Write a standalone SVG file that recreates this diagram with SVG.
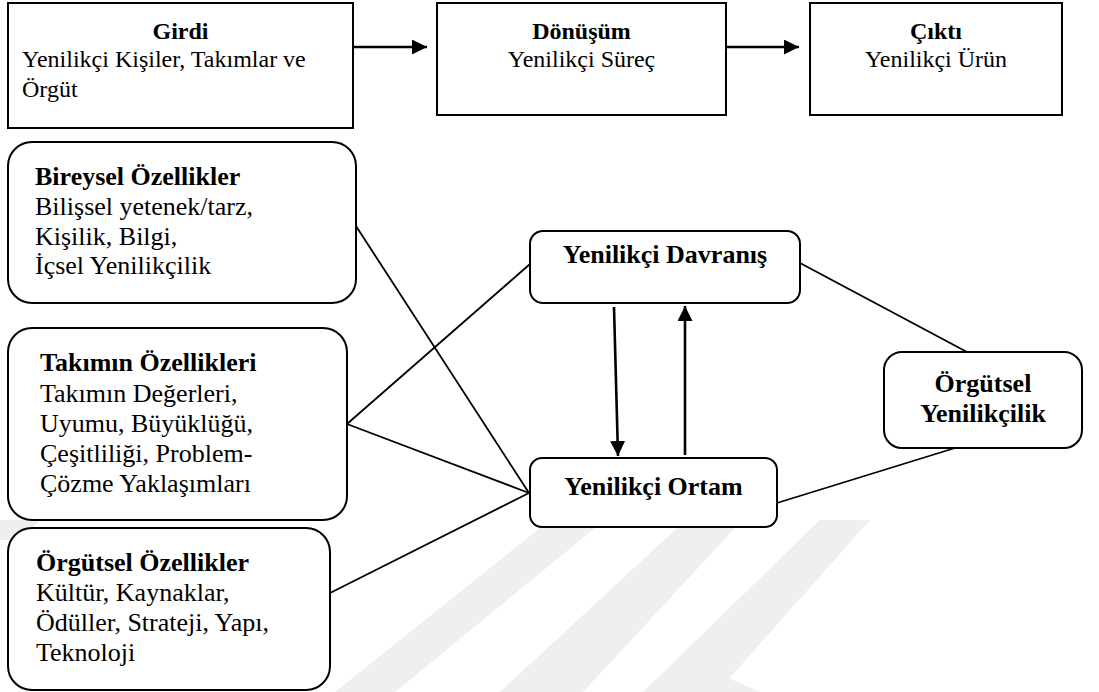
<svg xmlns="http://www.w3.org/2000/svg" width="1099" height="692" viewBox="0 0 1099 692">
  <style>
    .box { fill: #ffffff; stroke: #000000; stroke-width: 2; }
    .link { fill: none; stroke: #000000; stroke-width: 1.8; }
    .arrow { fill: none; stroke: #000000; stroke-width: 2.6; }
    .t { font-family: "Liberation Serif", "Times New Roman", serif; fill: #000000; }
    .top { font-size: 24px; }
    .low { font-size: 26px; }
    .b { font-weight: bold; }
    .mid { text-anchor: middle; }
    .wm { fill: #efefef; }
  </style>
  <defs>
    <marker id="head" markerUnits="userSpaceOnUse" markerWidth="16" markerHeight="16" refX="15" refY="7.5" orient="auto">
      <path d="M0,0 L15,7.5 L0,15 z" fill="#000000"/>
    </marker>
  </defs>

  <rect width="1099" height="692" fill="#ffffff"/>

  <!-- faint background emblem -->
  <g id="emblem">
    <polygon class="wm" points="335,692 395,692 595,528 540,528"/>
    <polygon class="wm" points="500,692 583,692 735,528 677,528"/>
    <polygon class="wm" points="643,692 717,692 870,520 820,520"/>
    <polygon class="wm" points="717,673 760,692 717,692"/>
    <polygon class="wm" points="0,540 0,520 40,520 20,540"/>
  </g>

  <!-- connectors -->
  <g id="connectors">
    <line class="arrow" x1="353" y1="47" x2="427" y2="47" marker-end="url(#head)"/>
    <line class="arrow" x1="726" y1="47" x2="799" y2="47" marker-end="url(#head)"/>
    <line class="arrow" x1="614" y1="307" x2="618" y2="456" marker-end="url(#head)"/>
    <line class="arrow" x1="685" y1="455" x2="685" y2="306" marker-end="url(#head)"/>
    <line class="link" x1="356" y1="226" x2="529" y2="493"/>
    <line class="link" x1="347" y1="424" x2="530" y2="264"/>
    <line class="link" x1="347" y1="424" x2="529" y2="493"/>
    <line class="link" x1="330" y1="593" x2="529" y2="493"/>
    <line class="link" x1="800" y1="263" x2="967" y2="352"/>
    <line class="link" x1="777" y1="503" x2="955" y2="448"/>
  </g>

  <g id="girdi">
    <rect class="box" x="8" y="3" width="345" height="125"/>
    <text class="t top b mid" x="180.5" y="39">Girdi</text>
    <text class="t top" x="22" y="67">Yenilikçi Kişiler, Takımlar ve</text>
    <text class="t top" x="22" y="97">Örgüt</text>
  </g>

  <g id="donusum">
    <rect class="box" x="437" y="3" width="289" height="112"/>
    <text class="t top b mid" x="581.5" y="39">Dönüşüm</text>
    <text class="t top mid" x="581.5" y="67">Yenilikçi Süreç</text>
  </g>

  <g id="cikti">
    <rect class="box" x="810" y="3" width="252" height="112"/>
    <text class="t top b mid" x="936" y="39">Çıktı</text>
    <text class="t top mid" x="936" y="67">Yenilikçi Ürün</text>
  </g>

  <g id="bireysel">
    <rect class="box" x="8" y="142" width="348" height="161" rx="24" ry="24"/>
    <text class="t low b" x="35" y="185">Bireysel Özellikler</text>
    <text class="t low" x="35" y="215">Bilişsel yetenek/tarz,</text>
    <text class="t low" x="35" y="245">Kişilik, Bilgi,</text>
    <text class="t low" x="35" y="274">İçsel Yenilikçilik</text>
  </g>

  <g id="takim">
    <rect class="box" x="8" y="328" width="339" height="192" rx="24" ry="24"/>
    <text class="t low b" x="40" y="371">Takımın Özellikleri</text>
    <text class="t low" x="40" y="402">Takımın Değerleri,</text>
    <text class="t low" x="40" y="432">Uyumu, Büyüklüğü,</text>
    <text class="t low" x="40" y="462">Çeşitliliği, Problem-</text>
    <text class="t low" x="40" y="492">Çözme Yaklaşımları</text>
  </g>

  <g id="orgutsel-ozellikler">
    <rect class="box" x="8" y="528" width="322" height="162" rx="24" ry="24"/>
    <text class="t low b" x="36" y="571">Örgütsel Özellikler</text>
    <text class="t low" x="36" y="601">Kültür, Kaynaklar,</text>
    <text class="t low" x="36" y="631">Ödüller, Strateji, Yapı,</text>
    <text class="t low" x="36" y="661">Teknoloji</text>
  </g>

  <g id="davranis">
    <rect class="box" x="530" y="231" width="270" height="72" rx="13" ry="13"/>
    <text class="t low b mid" x="665" y="263">Yenilikçi Davranış</text>
  </g>

  <g id="ortam">
    <rect class="box" x="530" y="458" width="247" height="69" rx="12" ry="12"/>
    <text class="t low b mid" x="653.5" y="495">Yenilikçi Ortam</text>
  </g>

  <g id="orgutsel-yenilikcilik">
    <rect class="box" x="884" y="352" width="198" height="96" rx="18" ry="18"/>
    <text class="t low b mid" x="983" y="392">Örgütsel</text>
    <text class="t low b mid" x="983" y="422">Yenilikçilik</text>
  </g>
</svg>
